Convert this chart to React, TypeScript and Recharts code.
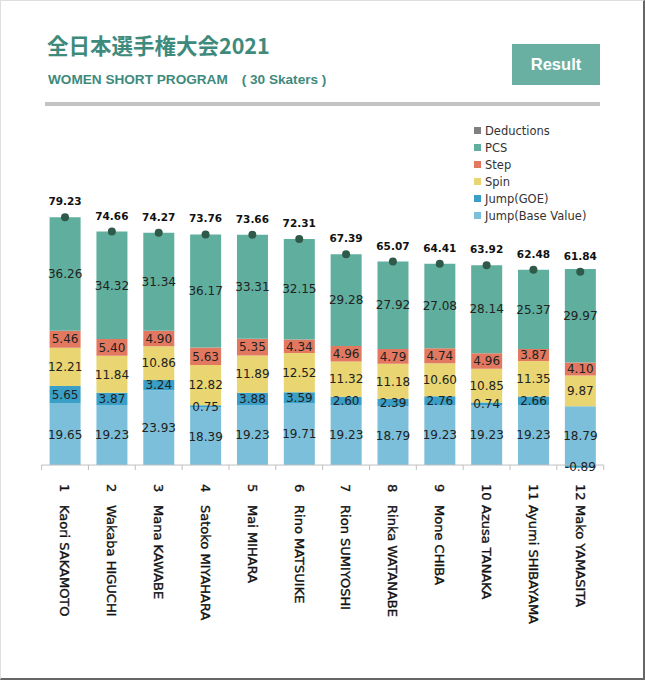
import { ComposedChart, Bar, Line, XAxis, YAxis, ReferenceLine, LabelList, Legend } from 'recharts';

const SKATERS = [
  'Kaori SAKAMOTO', 'Wakaba HIGUCHI', 'Mana KAWABE', 'Satoko MIYAHARA',
  'Mai MIHARA', 'Rino MATSUIKE', 'Rion SUMIYOSHI', 'Rinka WATANABE',
  'Mone CHIBA', 'Azusa TANAKA', 'Ayumi SHIBAYAMA', 'Mako YAMASITA',
];
const RANKS = [1, 2, 3, 4, 5, 6, 7, 8, 9, 10, 11, 12];
const JUMP_BASE = [19.65, 19.23, 23.93, 18.39, 19.23, 19.71, 19.23, 18.79, 19.23, 19.23, 19.23, 18.79];
const JUMP_GOE = [5.65, 3.87, 3.24, 0.75, 3.88, 3.59, 2.6, 2.39, 2.76, 0.74, 2.66, -0.89];
const SPIN = [12.21, 11.84, 10.86, 12.82, 11.89, 12.52, 11.32, 11.18, 10.6, 10.85, 11.35, 9.87];
const STEP = [5.46, 5.4, 4.9, 5.63, 5.35, 4.34, 4.96, 4.79, 4.74, 4.96, 3.87, 4.1];
const PCS = [36.26, 34.32, 31.34, 36.17, 33.31, 32.15, 29.28, 27.92, 27.08, 28.14, 25.37, 29.97];
const DEDUCTIONS = [0, 0, 0, 0, 0, 0, 0, 0, 0, 0, 0, 0];
const TOTAL = [79.23, 74.66, 74.27, 73.76, 73.66, 72.31, 67.39, 65.07, 64.41, 63.92, 62.48, 61.84];

// legend reads top-down, opposite to the stack
const LEGEND_ORDER = ['Deductions', 'PCS', 'Step', 'Spin', 'Jump(GOE)', 'Jump(Base Value)'];

const COLORS = {
  base: '#7cbfdb',
  goe: '#3a9fc6',
  spin: '#e9d571',
  step: '#e2785f',
  pcs: '#5fae9e',
  ded: '#808080',
  dot: '#2f5a4a',
};

const data = SKATERS.map((name, i) => ({
  name,
  base: JUMP_BASE[i],
  goe: JUMP_GOE[i],
  spin: SPIN[i],
  step: STEP[i],
  pcs: PCS[i],
  ded: DEDUCTIONS[i],
  total: TOTAL[i],
}));

// layout
const W = 645;
const H = 680;
const M_LEFT = 41.6;
const M_RIGHT = 41.3;
const PLOT_TOP = 193;
const Y_MIN = -3;
const Y_MAX = 87;
const PX_PER_UNIT = 3.127;
const PLOT_H = (Y_MAX - Y_MIN) * PX_PER_UNIT;
const ZERO_Y = PLOT_TOP + Y_MAX * PX_PER_UNIT;
const XAXIS_H = 20;
const M_BOTTOM = H - PLOT_TOP - PLOT_H - XAXIS_H;
const BAND = (W - M_LEFT - M_RIGHT) / SKATERS.length;

const fmt = (v: any) => (typeof v === 'number' ? v.toFixed(2) : v);
const labelStyle = { fill: '#222', fontSize: 12, fontFamily: 'DejaVu Sans' };

// eslint-disable-next-line @typescript-eslint/no-explicit-any
function SkaterTick({ x, payload, index }: any) {
  const ty = ZERO_Y + 19;
  const last = index === SKATERS.length - 1;
  const txt = {
    fontFamily: 'DejaVu Sans',
    fontSize: 13,
    fill: '#111',
    stroke: '#111',
    strokeWidth: 0.35,
  };
  return (
    <g>
      <line x1={x - BAND / 2} x2={x - BAND / 2} y1={ZERO_Y} y2={ZERO_Y + 5} stroke="#bfbfbf" />
      {last && <line x1={x + BAND / 2} x2={x + BAND / 2} y1={ZERO_Y} y2={ZERO_Y + 5} stroke="#bfbfbf" />}
      <g transform={`rotate(90, ${x}, ${ty})`}>
        <text x={x} y={ty} dy="0.36em" {...txt}>
          {RANKS[index]}
        </text>
        <text x={x + 21} y={ty} dy="0.36em" {...txt}>
          {payload.value}
        </text>
      </g>
    </g>
  );
}

// eslint-disable-next-line @typescript-eslint/no-explicit-any
function LegendBox({ payload }: any) {
  const items = [...(payload || [])]
    .filter((p: any) => LEGEND_ORDER.includes(p.value))
    .sort((a: any, b: any) => LEGEND_ORDER.indexOf(a.value) - LEGEND_ORDER.indexOf(b.value));
  return (
    <div style={{ fontFamily: 'DejaVu Sans', fontSize: 11.5, color: '#333' }}>
      {items.map((p: any) => (
        <div key={p.value} style={{ display: 'flex', alignItems: 'center', height: 17 }}>
          <span style={{ width: 7, height: 7, background: p.color, marginRight: 4, display: 'inline-block' }} />
          {p.value}
        </div>
      ))}
    </div>
  );
}

export default function App() {
  return (
    <div style={{ position: 'absolute', left: 0, top: 0, width: W, height: H, background: '#fff' }}>
      <div
        style={{
          position: 'absolute', left: 0, top: 0, width: W - 3, height: H - 3,
          borderLeft: '1px solid #dedede', borderTop: '1px solid #dedede',
          borderRight: '2px solid #666', borderBottom: '2px solid #666',
        }}
      />
      <div
        style={{
          position: 'absolute', left: 47, top: 34, fontFamily: 'Noto Sans CJK JP', fontWeight: 'bold',
          fontSize: 21.5, lineHeight: '21px', color: '#3e8a7d', whiteSpace: 'nowrap',
        }}
      >
        全日本選手権大会2021
      </div>
      <div
        style={{
          position: 'absolute', left: 48, top: 73, fontFamily: 'Liberation Sans', fontWeight: 'bold',
          fontSize: 13.6, lineHeight: '14px', color: '#3e8a7d', whiteSpace: 'pre',
        }}
      >
        {'WOMEN SHORT PROGRAM　( 30 Skaters )'}
      </div>
      <div
        style={{
          position: 'absolute', left: 512, top: 44, width: 88, height: 41, background: '#69b0a3',
          color: '#fff', fontFamily: 'Liberation Sans', fontWeight: 'bold', fontSize: 16.5,
          display: 'flex', alignItems: 'center', justifyContent: 'center',
        }}
      >
        Result
      </div>
      <div style={{ position: 'absolute', left: 45, top: 102, width: 555, height: 4, background: '#c3c3c3' }} />

      <div style={{ position: 'absolute', left: 0, top: 0 }}>
        <ComposedChart
          width={W}
          height={H}
          data={data}
          stackOffset="sign"
          margin={{ top: PLOT_TOP, right: M_RIGHT, bottom: M_BOTTOM, left: M_LEFT }}
        >
          <XAxis
            dataKey="name"
            height={XAXIS_H}
            axisLine={false}
            tickLine={false}
            interval={0}
            tick={<SkaterTick />}
          />
          <YAxis hide domain={[Y_MIN, Y_MAX]} allowDataOverflow />
          <ReferenceLine y={0} stroke="#bfbfbf" strokeWidth={1} />
          <Legend
            layout="horizontal"
            verticalAlign="middle"
            align="center"
            content={<LegendBox />}
            wrapperStyle={{ left: 474, top: 122, width: 170, height: 110 }}
          />
          <Bar dataKey="base" name="Jump(Base Value)" stackId="a" fill={COLORS.base} barSize={31} isAnimationActive={false}>
            <LabelList dataKey="base" position="center" formatter={fmt} {...labelStyle} />
          </Bar>
          <Bar dataKey="goe" name="Jump(GOE)" stackId="a" fill={COLORS.goe} barSize={31} isAnimationActive={false}>
            <LabelList dataKey="goe" position="center" formatter={fmt} {...labelStyle} />
          </Bar>
          <Bar dataKey="spin" name="Spin" stackId="a" fill={COLORS.spin} barSize={31} isAnimationActive={false}>
            <LabelList dataKey="spin" position="center" formatter={fmt} {...labelStyle} />
          </Bar>
          <Bar dataKey="step" name="Step" stackId="a" fill={COLORS.step} barSize={31} isAnimationActive={false}>
            <LabelList dataKey="step" position="center" formatter={fmt} {...labelStyle} />
          </Bar>
          <Bar dataKey="pcs" name="PCS" stackId="a" fill={COLORS.pcs} barSize={31} isAnimationActive={false}>
            <LabelList dataKey="pcs" position="center" formatter={fmt} {...labelStyle} />
          </Bar>
          <Bar dataKey="ded" name="Deductions" stackId="a" fill={COLORS.ded} barSize={31} isAnimationActive={false} />
          <Line
            dataKey="total"
            name="Total"
            legendType="none"
            stroke="none"
            dot={{ r: 4, fill: COLORS.dot, stroke: 'none' }}
            activeDot={false}
            isAnimationActive={false}
          >
            <LabelList
              dataKey="total"
              position="top"
              offset={12}
              formatter={fmt}
              fill="#111"
              fontSize={10.5}
              fontWeight="bold"
              fontFamily="DejaVu Sans"
            />
          </Line>
        </ComposedChart>
      </div>
    </div>
  );
}
